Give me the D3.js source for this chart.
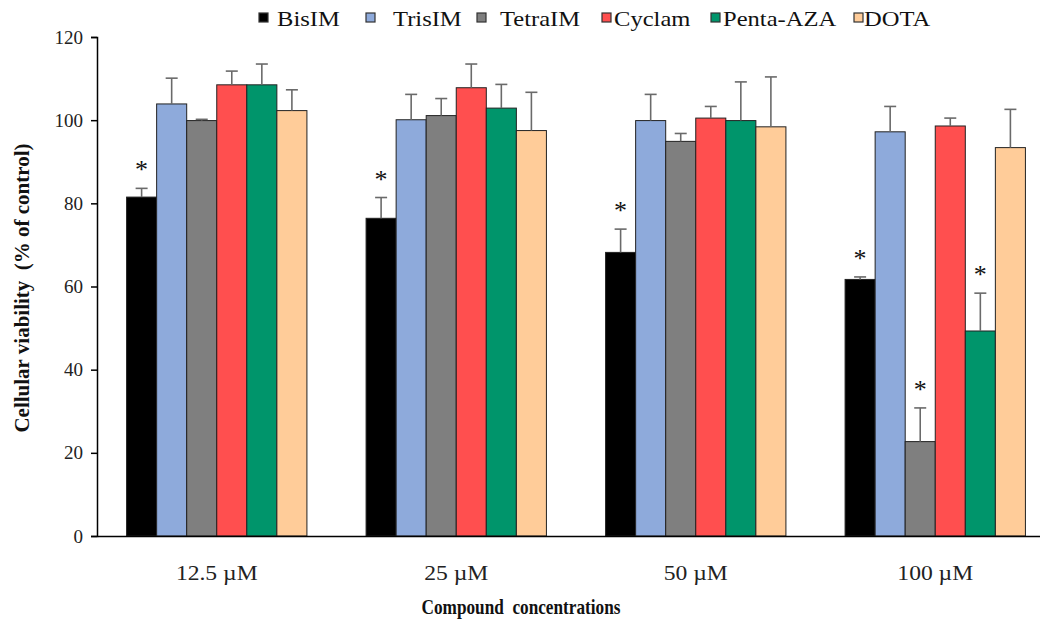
<!DOCTYPE html>
<html>
<head>
<meta charset="utf-8">
<script src="https://cdn.jsdelivr.net/npm/d3@7"></script>
<style>
  body { margin: 0; background: #fff; }
  svg text { font-family: "Liberation Serif", "Times New Roman", Times, serif; }
</style>
</head>
<body>
<div class="vis"></div>
<script>
// chart data
var concentrations = ["12.5 \u00b5M", "25 \u00b5M", "50 \u00b5M", "100 \u00b5M"];
var compounds = ["BisIM", "TrisIM", "TetraIM", "Cyclam", "Penta-AZA", "DOTA"];
var colours = ["#000000", "#8eaadb", "#7f7f7f", "#ff4f4f", "#00956b", "#ffcc99"];

// mean viability, one array per compound, in concentration order
var bisIM   = [81.5, 76.4, 68.2, 61.7];
var trisIM  = [103.9, 100.1, 99.9, 97.2];
var tetraIM = [99.9, 101.1, 94.9, 22.7];
var cyclam  = [108.5, 107.8, 100.5, 98.6];
var pentaAZA = [108.5, 102.9, 99.9, 49.3];
var dota    = [102.3, 97.5, 98.4, 93.4];

// upper error (SD)
var bisIMErr   = [2.1, 5.0, 5.6, 0.6];
var trisIMErr  = [6.2, 6.1, 6.3, 6.1];
var tetraIMErr = [0.3, 4.1, 1.9, 8.1];
var cyclamErr  = [3.3, 5.7, 2.8, 1.9];
var pentaAZAErr = [5.0, 5.7, 9.3, 9.1];
var dotaErr    = [5.0, 9.2, 12.0, 9.2];

// significance markers
var bisIMStar   = [1, 1, 1, 1];
var trisIMStar  = [0, 0, 0, 0];
var tetraIMStar = [0, 0, 0, 1];
var cyclamStar  = [0, 0, 0, 0];
var pentaAZAStar = [0, 0, 0, 1];
var dotaStar    = [0, 0, 0, 0];

var yTicks = [0, 20, 40, 60, 80, 100, 120];

var means = [bisIM, trisIM, tetraIM, cyclam, pentaAZA, dota];
var errs = [bisIMErr, trisIMErr, tetraIMErr, cyclamErr, pentaAZAErr, dotaErr];
var stars = [bisIMStar, trisIMStar, tetraIMStar, cyclamStar, pentaAZAStar, dotaStar];

var serif = "'Liberation Serif', 'Times New Roman', serif";

// build flat list of bars
var bars = [];
concentrations.forEach(function(c, i) {
	compounds.forEach(function(k, j) {
		bars.push({ conc: c, comp: k, colour: colours[j], v: means[j][i], e: errs[j][i], star: stars[j][i] });
	});
});

//  SVG
var width = 1040, height = 623;
var svg = d3.select(".vis").append("svg")
	.attr("width", width)
	.attr("height", height)
	.style("display", "block");

var plot = { left: 97, right: 1055, top: 37, bottom: 536 };

var y = d3.scaleLinear()
	.domain([0, 120])
	.range([plot.bottom, plot.top]);

var x0 = d3.scaleBand()
	.domain(concentrations)
	.range([plot.left, plot.right])
	.paddingInner(0.247)
	.paddingOuter(0.1235);

var x1 = d3.scaleBand()
	.domain(compounds)
	.range([0, x0.bandwidth()]);

// bars
svg.append("g").selectAll("rect")
	.data(bars)
	.enter().append("rect")
	.attr("x", function(d) { return x0(d.conc) + x1(d.comp); })
	.attr("y", function(d) { return y(d.v); })
	.attr("width", x1.bandwidth())
	.attr("height", function(d) { return y(0) - y(d.v); })
	.attr("fill", function(d) { return d.colour; })
	.attr("stroke", "#222")
	.attr("stroke-width", 1);

// error bars (upper only)
var eb = svg.append("g").attr("stroke", "#6a6a6a").attr("stroke-width", 1.6);
bars.forEach(function(d) {
	var cx = x0(d.conc) + x1(d.comp) + x1.bandwidth() / 2;
	eb.append("line")
		.attr("x1", cx).attr("x2", cx)
		.attr("y1", y(d.v)).attr("y2", y(d.v + d.e));
	eb.append("line")
		.attr("x1", cx - 6).attr("x2", cx + 6)
		.attr("y1", y(d.v + d.e)).attr("y2", y(d.v + d.e));
});

// stars
svg.append("g").selectAll("text")
	.data(bars.filter(function(d) { return d.star; }))
	.enter().append("text")
	.attr("x", function(d) { return x0(d.conc) + x1(d.comp) + x1.bandwidth() / 2; })
	.attr("y", function(d) { return y(d.v + d.e) - 10; })
	.attr("text-anchor", "middle")
	.attr("font-family", serif)
	.attr("font-size", 26)
	.attr("fill", "#111")
	.text("*");

// y axis
var yAxis = svg.append("g")
	.attr("transform", "translate(" + plot.left + ",0)")
	.call(d3.axisLeft(y).tickValues(yTicks).tickSize(6).tickPadding(8));
yAxis.attr("font-family", serif);
yAxis.select(".domain").attr("stroke", "#000").attr("stroke-width", 1.5);
yAxis.selectAll(".tick line").attr("stroke", "#000").attr("stroke-width", 1.5);
yAxis.selectAll("text").attr("font-size", 19).attr("fill", "#222");

// x axis (the source figure is a little stretched sideways)
var xAxis = svg.append("g")
	.attr("transform", "translate(0," + plot.bottom + ")")
	.call(d3.axisBottom(x0).tickSize(0).tickPadding(30));
xAxis.attr("font-family", serif);
xAxis.select(".domain").attr("stroke", "#000").attr("stroke-width", 1.5);
xAxis.selectAll("text").attr("font-size", 20).attr("fill", "#222")
	.attr("transform", "scale(1.18,1)");

// axis titles
svg.append("text")
	.attr("transform", "translate(521,614) scale(0.82,1)")
	.attr("text-anchor", "middle")
	.attr("font-family", serif)
	.attr("font-size", 21)
	.attr("font-weight", "bold")
	.attr("fill", "#111")
	.style("white-space", "pre")
	.text("Compound  concentrations");

svg.append("text")
	.attr("transform", "translate(29,288) rotate(-90)")
	.attr("text-anchor", "middle")
	.attr("font-family", serif)
	.attr("font-size", 21)
	.attr("font-weight", "bold")
	.attr("fill", "#111")
	.style("white-space", "pre")
	.text("Cellular viability  (% of control)");

// legend
var legendMarkX = [259, 366, 477, 602, 711, 854];
var legendTextX = [277, 393, 500, 614, 723, 864];
var legend = svg.append("g");
compounds.forEach(function(k, j) {
	legend.append("rect")
		.attr("x", legendMarkX[j]).attr("y", 13)
		.attr("width", 9).attr("height", 9)
		.attr("fill", colours[j])
		.attr("stroke", "#333").attr("stroke-width", 1.2);
	legend.append("text")
		.attr("transform", "translate(" + legendTextX[j] + ",26) scale(1.17,1)")
		.attr("font-family", serif)
		.attr("font-size", 21)
		.attr("fill", "#111")
		.text(k);
});
</script>
</body>
</html>
